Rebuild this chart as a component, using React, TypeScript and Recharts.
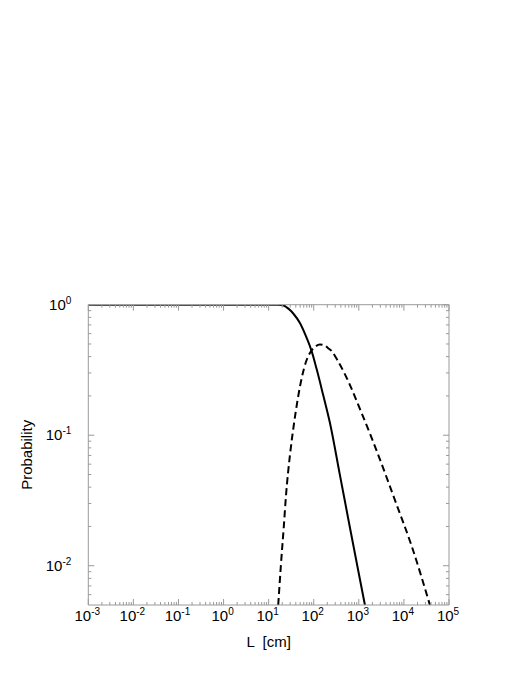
import React from "react";
import { LineChart, Line, XAxis, YAxis } from "recharts";

// solid curve: L [cm] vs probability
const SOLID_L = [0.001, 0.01, 0.1, 1, 10, 16.3, 20.7, 25.1, 29.7, 35.1, 49.4, 69.7, 89.8, 116, 162, 229, 381, 631, 927, 1365];
const SOLID_P = [1, 1, 1, 1, 1, 0.999, 0.991, 0.955, 0.911, 0.856, 0.724, 0.556, 0.441, 0.321, 0.203, 0.124, 0.0495, 0.0198, 0.00995, 0.005];

// dashed curve
const DASH_L = [16.3, 18.7, 21.8, 24.2, 29.7, 36.4, 44.6, 54.7, 67.1, 82.4, 106, 137, 177, 206, 249, 344, 490, 1153, 2700, 6300, 14800, 37700];
const DASH_P = [0.005, 0.0101, 0.0205, 0.0342, 0.0705, 0.122, 0.193, 0.279, 0.364, 0.427, 0.474, 0.496, 0.487, 0.466, 0.442, 0.37, 0.294, 0.148, 0.0705, 0.0319, 0.0142, 0.005];

const X_DECADES = [-3, -2, -1, 0, 1, 2, 3, 4, 5];
const Y_DECADES = [-3, -2, -1, 0];
const X_DOMAIN = [0.001, 100000];
const Y_DOMAIN = [0.005, 1];

const FRAME = "#9a9a9a";
const FONT = "'Liberation Sans', Arial, Helvetica, sans-serif";

// plot box
const W = 526;
const H = 681;
const LEFT = 88.3;
const RIGHT = 449;
const TOP = 304.7;
const BOTTOM = 605;

const solidData = SOLID_L.map((l, i) => ({ l, p: SOLID_P[i] }));
const dashData = DASH_L.map((l, i) => ({ l, p: DASH_P[i] }));

// major + minor ticks (1..9 x 10^k)
function logTicks(decades: number[], lo: number, hi: number) {
  const out: number[] = [];
  for (const k of decades) {
    for (let m = 1; m <= 9; m++) {
      const v = Number((m * Math.pow(10, k)).toPrecision(6));
      if (v > lo * 1.0001 && v <= hi * 1.0001) out.push(v);
      if (m === 1 && Math.abs(v - lo) < 1e-12) out.push(v);
    }
  }
  return out;
}
const xTicks = logTicks(X_DECADES, X_DOMAIN[0], X_DOMAIN[1]);
const yTicks = logTicks(Y_DECADES, Y_DOMAIN[0], Y_DOMAIN[1]);

const isMajor = (v: number) => Math.abs(Math.log10(v) - Math.round(Math.log10(v))) < 1e-6;
const expOf = (v: number) => String(Math.round(Math.log10(v)));
const tickLen = (v: number) => (isMajor(v) ? 6 : 3);

function Pow({ x, y, v, anchor }: { x: number; y: number; v: number; anchor: "middle" | "end" }) {
  return (
    <text x={x} y={y} textAnchor={anchor} fontFamily={FONT} fontSize={15} fill="#000">
      10
      <tspan dy={-6} fontSize={10}>
        {expOf(v)}
      </tspan>
    </text>
  );
}

function BottomTick(props: any) {
  const { x, y, payload } = props;
  const v = payload.value;
  return (
    <g>
      <line x1={x} x2={x} y1={y} y2={y - tickLen(v)} stroke={FRAME} />
      {isMajor(v) && <Pow x={x - 1} y={y + 16} v={v} anchor="middle" />}
    </g>
  );
}

function TopTick(props: any) {
  const { x, y, payload } = props;
  return <line x1={x} x2={x} y1={y} y2={y + tickLen(payload.value)} stroke={FRAME} />;
}

function LeftTick(props: any) {
  const { x, y, payload } = props;
  const v = payload.value;
  return (
    <g>
      <line x1={x} x2={x + tickLen(v)} y1={y} y2={y} stroke={FRAME} />
      {isMajor(v) && <Pow x={x - 17} y={y + 5} v={v} anchor="end" />}
    </g>
  );
}

function RightTick(props: any) {
  const { x, y, payload } = props;
  return <line x1={x} x2={x - tickLen(payload.value)} y1={y} y2={y} stroke={FRAME} />;
}

export default function App() {
  return (
    <div style={{ position: "absolute", left: 0, top: 0, background: "#fff" }}>
      <LineChart
        width={W}
        height={H}
        margin={{ top: TOP - 10, right: W - RIGHT - 10, bottom: H - BOTTOM - 40, left: LEFT - 60 }}
      >
        <XAxis
          dataKey="l"
          type="number"
          scale="log"
          domain={X_DOMAIN}
          allowDataOverflow
          ticks={xTicks}
          interval={0}
          tick={BottomTick}
          tickLine={false}
          tickSize={0}
          tickMargin={0}
          height={40}
          axisLine={{ stroke: FRAME }}
          label={() => (
            <text
              x={(LEFT + RIGHT) / 2}
              y={BOTTOM + 42}
              textAnchor="middle"
              fontFamily={FONT}
              fontSize={15}
              fill="#000"
              style={{ whiteSpace: "pre" }}
            >
              L  [cm]
            </text>
          )}
        />
        <XAxis
          xAxisId="top"
          orientation="top"
          dataKey="l"
          type="number"
          scale="log"
          domain={X_DOMAIN}
          allowDataOverflow
          ticks={xTicks}
          interval={0}
          tick={TopTick}
          tickLine={false}
          tickSize={0}
          tickMargin={0}
          height={10}
          axisLine={{ stroke: FRAME }}
        />
        <YAxis
          type="number"
          scale="log"
          domain={Y_DOMAIN}
          allowDataOverflow
          ticks={yTicks}
          interval={0}
          tick={LeftTick}
          tickLine={false}
          tickSize={0}
          tickMargin={0}
          width={60}
          axisLine={{ stroke: FRAME }}
          label={() => (
            <text
              x={32.5}
              y={(TOP + BOTTOM) / 2}
              transform={`rotate(-90 32.5 ${(TOP + BOTTOM) / 2})`}
              textAnchor="middle"
              fontFamily={FONT}
              fontSize={15}
              fill="#000"
            >
              Probability
            </text>
          )}
        />
        <YAxis
          yAxisId="right"
          orientation="right"
          type="number"
          scale="log"
          domain={Y_DOMAIN}
          allowDataOverflow
          ticks={yTicks}
          interval={0}
          tick={RightTick}
          tickLine={false}
          tickSize={0}
          tickMargin={0}
          width={10}
          axisLine={{ stroke: FRAME }}
        />
        <Line
          data={solidData}
          dataKey="p"
          type="monotone"
          stroke="#000"
          strokeWidth={2}
          dot={false}
          activeDot={false}
          isAnimationActive={false}
        />
        <Line
          data={dashData}
          dataKey="p"
          type="monotone"
          stroke="#000"
          strokeWidth={2}
          strokeDasharray="7 4"
          dot={false}
          activeDot={false}
          isAnimationActive={false}
        />
      </LineChart>
    </div>
  );
}
